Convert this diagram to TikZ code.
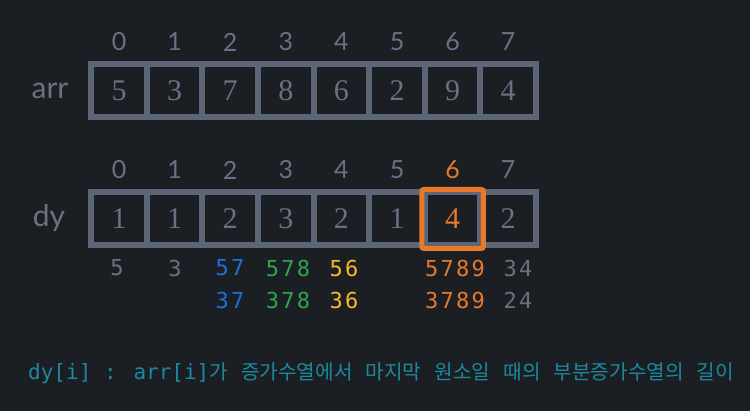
\documentclass[tikz,border=0pt]{standalone}
\usepackage{fontspec}
\usepackage{xcolor}
\usepackage{tikz}

\newfontfamily\idxfont{Lato}
\newfontfamily\cellfont{Liberation Serif}
\newfontfamily\codefont{DejaVu Sans Mono}
\newfontfamily\seqfont{DejaVu Sans Mono}[LetterSpace=10]
\newfontfamily\krfont{Noto Sans CJK KR}[WordSpace=2.9]

\definecolor{bgdark}{RGB}{27,30,34}
\definecolor{boxgray}{RGB}{92,102,118}
\definecolor{numgray}{RGB}{104,114,130}
\definecolor{hlorange}{RGB}{232,121,43}
\definecolor{seqblue}{RGB}{30,111,217}
\definecolor{seqgreen}{RGB}{45,164,78}
\definecolor{seqyellow}{RGB}{245,184,46}
\definecolor{noteteal}{RGB}{27,138,158}

\tikzset{
  cell/.style={draw=boxgray, line width=6pt, minimum width=55.6pt, minimum height=53pt,
    inner sep=0pt, text=numgray, font=\cellfont\fontsize{30}{30}\selectfont},
  idx/.style={text=numgray, font=\idxfont\fontsize{25}{25}\selectfont},
  rowname/.style={text=numgray, font=\idxfont\fontsize{30}{30}\selectfont},
  seq/.style={font=\seqfont\fontsize{22}{22}\selectfont},
  hl/.style={draw=hlorange, line width=5pt, rounded corners=2pt},
}

\begin{document}
\begin{tikzpicture}[x=1pt,y=-1pt]
    % background
    \fill[bgdark] (0,0) rectangle (750,411);
    \useasboundingbox (0,0) rectangle (750,411);

    % Here is the arr row
    \node[rowname] (arrname) at (50,91) {arr};
    \node[idx] (ai0) at (119,42) {0};
    \node[idx] (ai1) at (174.6,42) {1};
    \node[idx] (ai2) at (230.2,42) {2};
    \node[idx] (ai3) at (285.8,42) {3};
    \node[idx] (ai4) at (341.4,42) {4};
    \node[idx] (ai5) at (397,42) {5};
    \node[idx] (ai6) at (452.6,42) {6};
    \node[idx] (ai7) at (508.2,42) {7};
    \node[cell] (a0) at (119,91) {5};
    \node[cell] (a1) at (174.6,91) {3};
    \node[cell] (a2) at (230.2,91) {7};
    \node[cell] (a3) at (285.8,91) {8};
    \node[cell] (a4) at (341.4,91) {6};
    \node[cell] (a5) at (397,91) {2};
    \node[cell] (a6) at (452.6,91) {9};
    \node[cell] (a7) at (508.2,91) {4};

    % Here is the dy row
    \node[rowname] (dyname) at (49,218) {dy};
    \node[idx] (di0) at (119,170) {0};
    \node[idx] (di1) at (174.6,170) {1};
    \node[idx] (di2) at (230.2,170) {2};
    \node[idx] (di3) at (285.8,170) {3};
    \node[idx] (di4) at (341.4,170) {4};
    \node[idx] (di5) at (397,170) {5};
    \node[idx, text=hlorange] (di6) at (452.6,170) {6};
    \node[idx] (di7) at (508.2,170) {7};
    \node[cell] (d0) at (119,219) {1};
    \node[cell] (d1) at (174.6,219) {1};
    \node[cell] (d2) at (230.2,219) {2};
    \node[cell] (d3) at (285.8,219) {3};
    \node[cell] (d4) at (341.4,219) {2};
    \node[cell] (d5) at (397,219) {1};
    \node[cell, text=hlorange] (d6) at (452.6,219) {4};
    \node[cell] (d7) at (508.2,219) {2};
    \draw[hl] (d6.north west) rectangle (d6.south east);

    % sequences under dy
    \node[seq, text=numgray] (s0) at (117,268) {5};
    \node[seq, text=numgray] (s1) at (175,268) {3};
    \node[seq, text=seqblue] (s2) at (230,268) {57};
    \node[seq, text=seqblue] (t2) at (230,300) {37};
    \node[seq, text=seqgreen] (s3) at (288,268) {578};
    \node[seq, text=seqgreen] (t3) at (288,300) {378};
    \node[seq, text=seqyellow] (s4) at (344,268) {56};
    \node[seq, text=seqyellow] (t4) at (344,300) {36};
    \node[seq, text=hlorange] (s6) at (455,268) {5789};
    \node[seq, text=hlorange] (t6) at (455,300) {3789};
    \node[seq, text=numgray] (s7) at (518,268) {34};
    \node[seq, text=numgray] (t7) at (518,300) {24};

    % using node for the note
    \node[anchor=west, inner sep=0pt, text=noteteal] (note) at (28,373)
      {\codefont\fontsize{21}{21}\selectfont dy[i] : arr[i]{\krfont\fontsize{20.2}{21}\selectfont 가 증가수열에서 마지막 원소일 때의 부분증가수열의 길이}};
\end{tikzpicture}
\end{document}
